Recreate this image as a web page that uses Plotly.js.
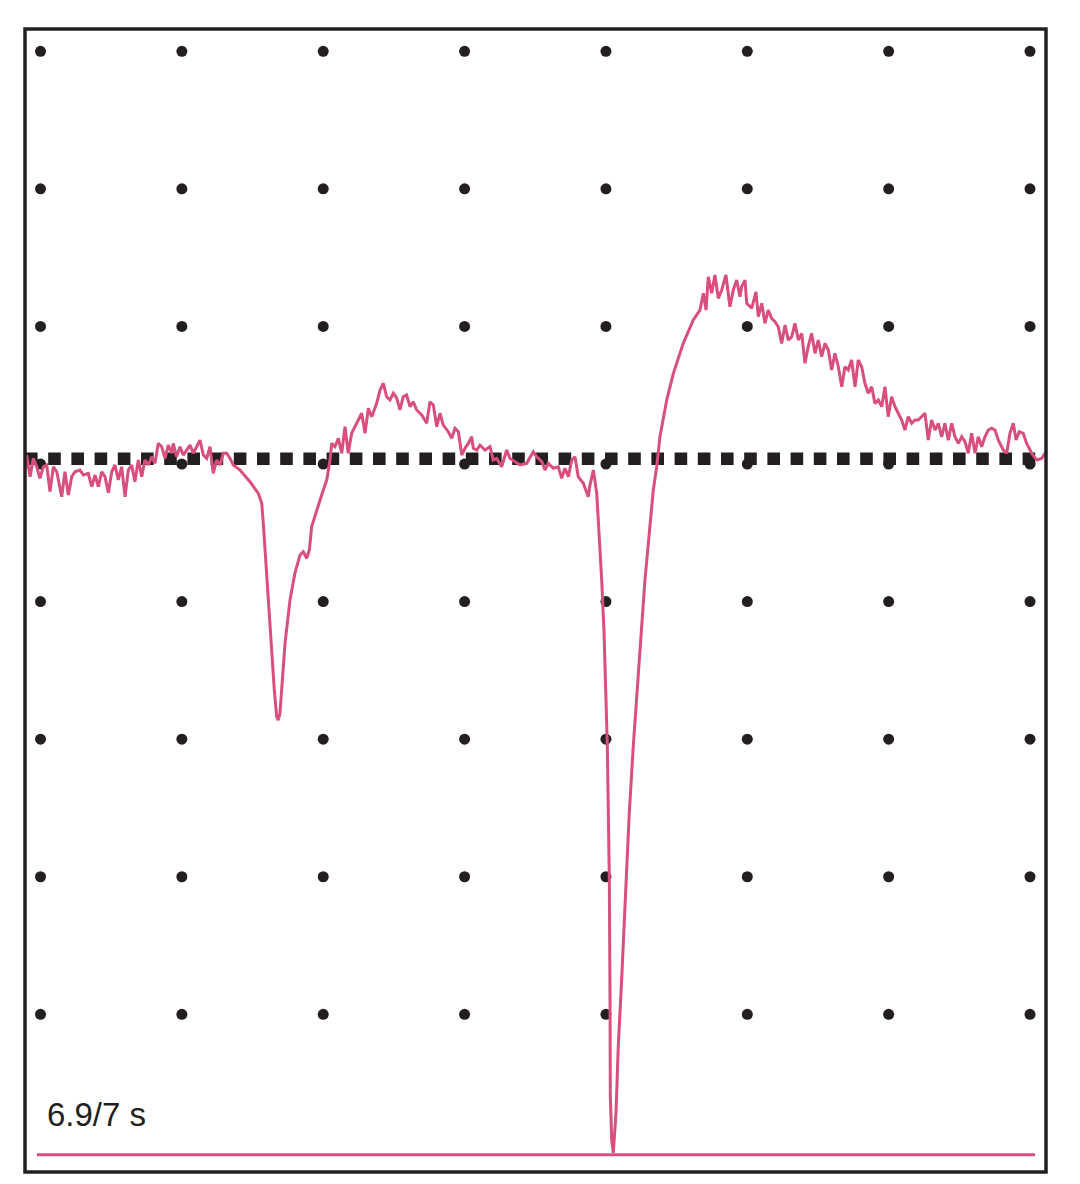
<!DOCTYPE html>
<html>
<head>
<meta charset="utf-8">
<script src="https://cdn.plot.ly/plotly-3.0.1.min.js"></script>
<style>
  html, body { margin: 0; padding: 0; background: #ffffff; }
  #chart { width: 1080px; height: 1184px; }
</style>
</head>
<body>
<div id="chart"></div>
<script>
// ---- data (units: screen divisions) ----
const gridCols = [0, 1, 2, 3, 4, 5, 6, 7];
const gridRows = [3, 2, 1, 0, -1, -2, -3, -4];
const baselineLevel = 0.038;
const floorLevel = -5.02;
const floorStart = -0.025;
const floorEnd = 7.035;
const captionText = '6.9/7 s';

const traceX = [-0.133,-0.122,-0.098,-0.074,-0.051,-0.027,-0.004,0.020,0.044,0.067,0.091,0.115,0.150,0.173,0.197,0.221,0.244,0.279,0.303,0.338,0.362,0.386,0.409,0.433,0.456,0.480,0.504,0.527,0.550,0.574,0.598,0.621,0.645,0.668,0.692,0.716,0.739,0.763,0.787,0.810,0.833,0.857,0.881,0.904,0.928,0.939,0.963,0.987,1.010,1.034,1.058,1.081,1.105,1.128,1.152,1.176,1.199,1.222,1.246,1.270,1.293,1.317,1.341,1.364,1.411,1.482,1.541,1.565,1.576,1.588,1.611,1.636,1.654,1.671,1.682,1.694,1.706,1.730,1.765,1.800,1.836,1.859,1.883,1.902,1.918,1.954,1.989,2.025,2.048,2.060,2.083,2.107,2.131,2.154,2.177,2.201,2.237,2.272,2.296,2.319,2.343,2.378,2.402,2.425,2.449,2.472,2.496,2.520,2.543,2.566,2.590,2.614,2.637,2.661,2.697,2.732,2.755,2.779,2.803,2.826,2.849,2.885,2.909,2.932,2.956,2.980,3.003,3.026,3.050,3.062,3.086,3.109,3.144,3.180,3.203,3.227,3.262,3.298,3.321,3.357,3.392,3.439,3.486,3.510,3.546,3.569,3.592,3.628,3.663,3.687,3.710,3.734,3.758,3.781,3.804,3.840,3.875,3.887,3.911,3.935,3.951,3.970,3.986,4.000,4.010,4.017,4.024,4.029,4.031,4.041,4.052,4.071,4.087,4.111,4.138,4.165,4.193,4.217,4.248,4.276,4.312,4.335,4.359,4.382,4.430,4.477,4.547,4.618,4.665,4.689,4.708,4.724,4.748,4.771,4.795,4.819,4.849,4.877,4.901,4.925,4.948,4.960,4.984,4.996,5.031,5.061,5.078,5.102,5.125,5.148,5.172,5.196,5.219,5.243,5.267,5.290,5.314,5.337,5.361,5.385,5.408,5.431,5.455,5.479,5.502,5.526,5.550,5.573,5.597,5.620,5.644,5.668,5.691,5.714,5.738,5.762,5.785,5.809,5.832,5.856,5.880,5.903,5.927,5.951,5.974,5.997,6.021,6.045,6.068,6.092,6.115,6.139,6.163,6.186,6.209,6.234,6.257,6.280,6.304,6.328,6.351,6.375,6.398,6.422,6.446,6.469,6.493,6.517,6.540,6.563,6.587,6.611,6.634,6.658,6.681,6.705,6.729,6.752,6.776,6.811,6.835,6.858,6.882,6.901,6.924,6.952,6.976,7.012,7.048,7.082,7.113,7.130];

const traceY = [0.078,-0.116,0.065,-0.092,0.041,-0.020,-0.104,-0.020,-0.007,-0.201,-0.020,-0.056,-0.238,-0.056,-0.225,-0.092,-0.056,-0.044,-0.080,-0.068,-0.165,-0.080,-0.165,-0.056,-0.092,-0.209,-0.056,-0.007,-0.116,-0.020,-0.238,-0.044,-0.007,-0.129,0.029,-0.092,0.029,-0.007,0.053,0.005,0.150,0.126,0.041,0.138,0.078,0.150,0.053,0.126,0.065,0.102,0.138,0.078,0.126,0.174,0.065,0.041,0.126,-0.068,0.029,-0.007,0.078,0.078,0.041,-0.007,-0.044,-0.129,-0.213,-0.286,-0.429,-0.625,-0.989,-1.352,-1.643,-1.837,-1.861,-1.810,-1.643,-1.301,-0.989,-0.792,-0.661,-0.637,-0.685,-0.625,-0.456,-0.334,-0.225,-0.116,0.029,0.150,0.126,0.187,0.078,0.271,0.078,0.223,0.296,0.369,0.223,0.405,0.344,0.441,0.538,0.587,0.489,0.465,0.514,0.478,0.393,0.489,0.502,0.417,0.453,0.393,0.356,0.296,0.453,0.429,0.271,0.369,0.283,0.235,0.187,0.260,0.235,0.065,0.114,0.150,0.198,0.114,0.102,0.138,0.102,0.126,0.029,0.041,-0.020,0.102,0.041,0.017,-0.007,0.005,0.089,0.053,0.017,-0.044,0.005,-0.031,-0.020,-0.104,-0.031,-0.092,0.029,0.053,-0.092,-0.140,-0.238,-0.153,-0.044,-0.213,-0.480,-0.843,-1.207,-1.692,-2.055,-2.539,-3.024,-3.896,-4.599,-4.914,-5.008,-4.718,-4.236,-3.751,-3.097,-2.539,-2.055,-1.692,-1.207,-0.843,-0.443,-0.189,-0.020,0.198,0.465,0.659,0.877,1.047,1.119,1.241,1.119,1.361,1.241,1.374,1.204,1.265,1.374,1.143,1.265,1.337,1.216,1.289,1.337,1.168,1.132,1.252,1.071,1.168,1.023,1.119,1.059,1.034,0.998,0.877,1.010,0.901,0.925,1.023,0.901,0.950,0.732,0.853,0.950,0.805,0.901,0.780,0.877,0.829,0.683,0.805,0.707,0.562,0.707,0.683,0.756,0.562,0.756,0.707,0.587,0.514,0.562,0.441,0.465,0.417,0.562,0.344,0.489,0.417,0.369,0.320,0.247,0.344,0.296,0.320,0.320,0.344,0.369,0.174,0.320,0.247,0.296,0.198,0.296,0.174,0.296,0.198,0.150,0.198,0.162,0.078,0.223,0.078,0.198,0.126,0.198,0.247,0.260,0.247,0.174,0.102,0.078,0.223,0.296,0.174,0.235,0.223,0.150,0.078,0.029,0.041,0.089,0.100];

// ---- build ----
const INK = '#231f20';
const PINK = '#d94f7b';
const X_RANGE = [-0.1097, 7.1131];
const Y_RANGE = [-5.146, 3.162];

const dotX = [], dotY = [];
gridRows.forEach(r => gridCols.forEach(c => { dotX.push(c); dotY.push(r); }));

const data = [
  { type: 'scatter', mode: 'markers', x: dotX, y: dotY, hoverinfo: 'skip',
    marker: { size: 11, color: INK, line: { width: 0 } } },
  { type: 'scatter', mode: 'lines', x: X_RANGE, y: [baselineLevel, baselineLevel], hoverinfo: 'skip',
    line: { color: INK, width: 12.5, dash: '12.6px,10.6px' } },
  { type: 'scatter', mode: 'lines', x: [floorStart, floorEnd], y: [floorLevel, floorLevel], hoverinfo: 'skip',
    line: { color: PINK, width: 3 } },
  { type: 'scatter', mode: 'lines', x: traceX, y: traceY, hoverinfo: 'skip',
    line: { color: PINK, width: 3, shape: 'linear' } }
];

const axisCommon = { showgrid: false, zeroline: false, showticklabels: false, ticks: '', showline: false, fixedrange: true };

const layout = {
  width: 1080, height: 1184,
  margin: { l: 25, r: 34, t: 29, b: 12, pad: 0 },
  paper_bgcolor: '#ffffff', plot_bgcolor: '#ffffff',
  showlegend: false,
  xaxis: Object.assign({ range: X_RANGE }, axisCommon),
  yaxis: Object.assign({ range: Y_RANGE }, axisCommon),
  shapes: [
    { type: 'rect', xref: 'paper', yref: 'paper', x0: 0, x1: 1, y0: 0, y1: 1,
      line: { color: INK, width: 3.5 }, fillcolor: 'rgba(0,0,0,0)', layer: 'above' }
  ],
  annotations: [
    { x: 0.03, y: -4.725, xref: 'x', yref: 'y', xanchor: 'left', yanchor: 'middle',
      text: captionText, showarrow: false,
      font: { family: 'Liberation Sans, Arial, sans-serif', size: 33, color: INK } }
  ]
};

Plotly.newPlot('chart', data, layout, { staticPlot: true, displayModeBar: false });
</script>
</body>
</html>
